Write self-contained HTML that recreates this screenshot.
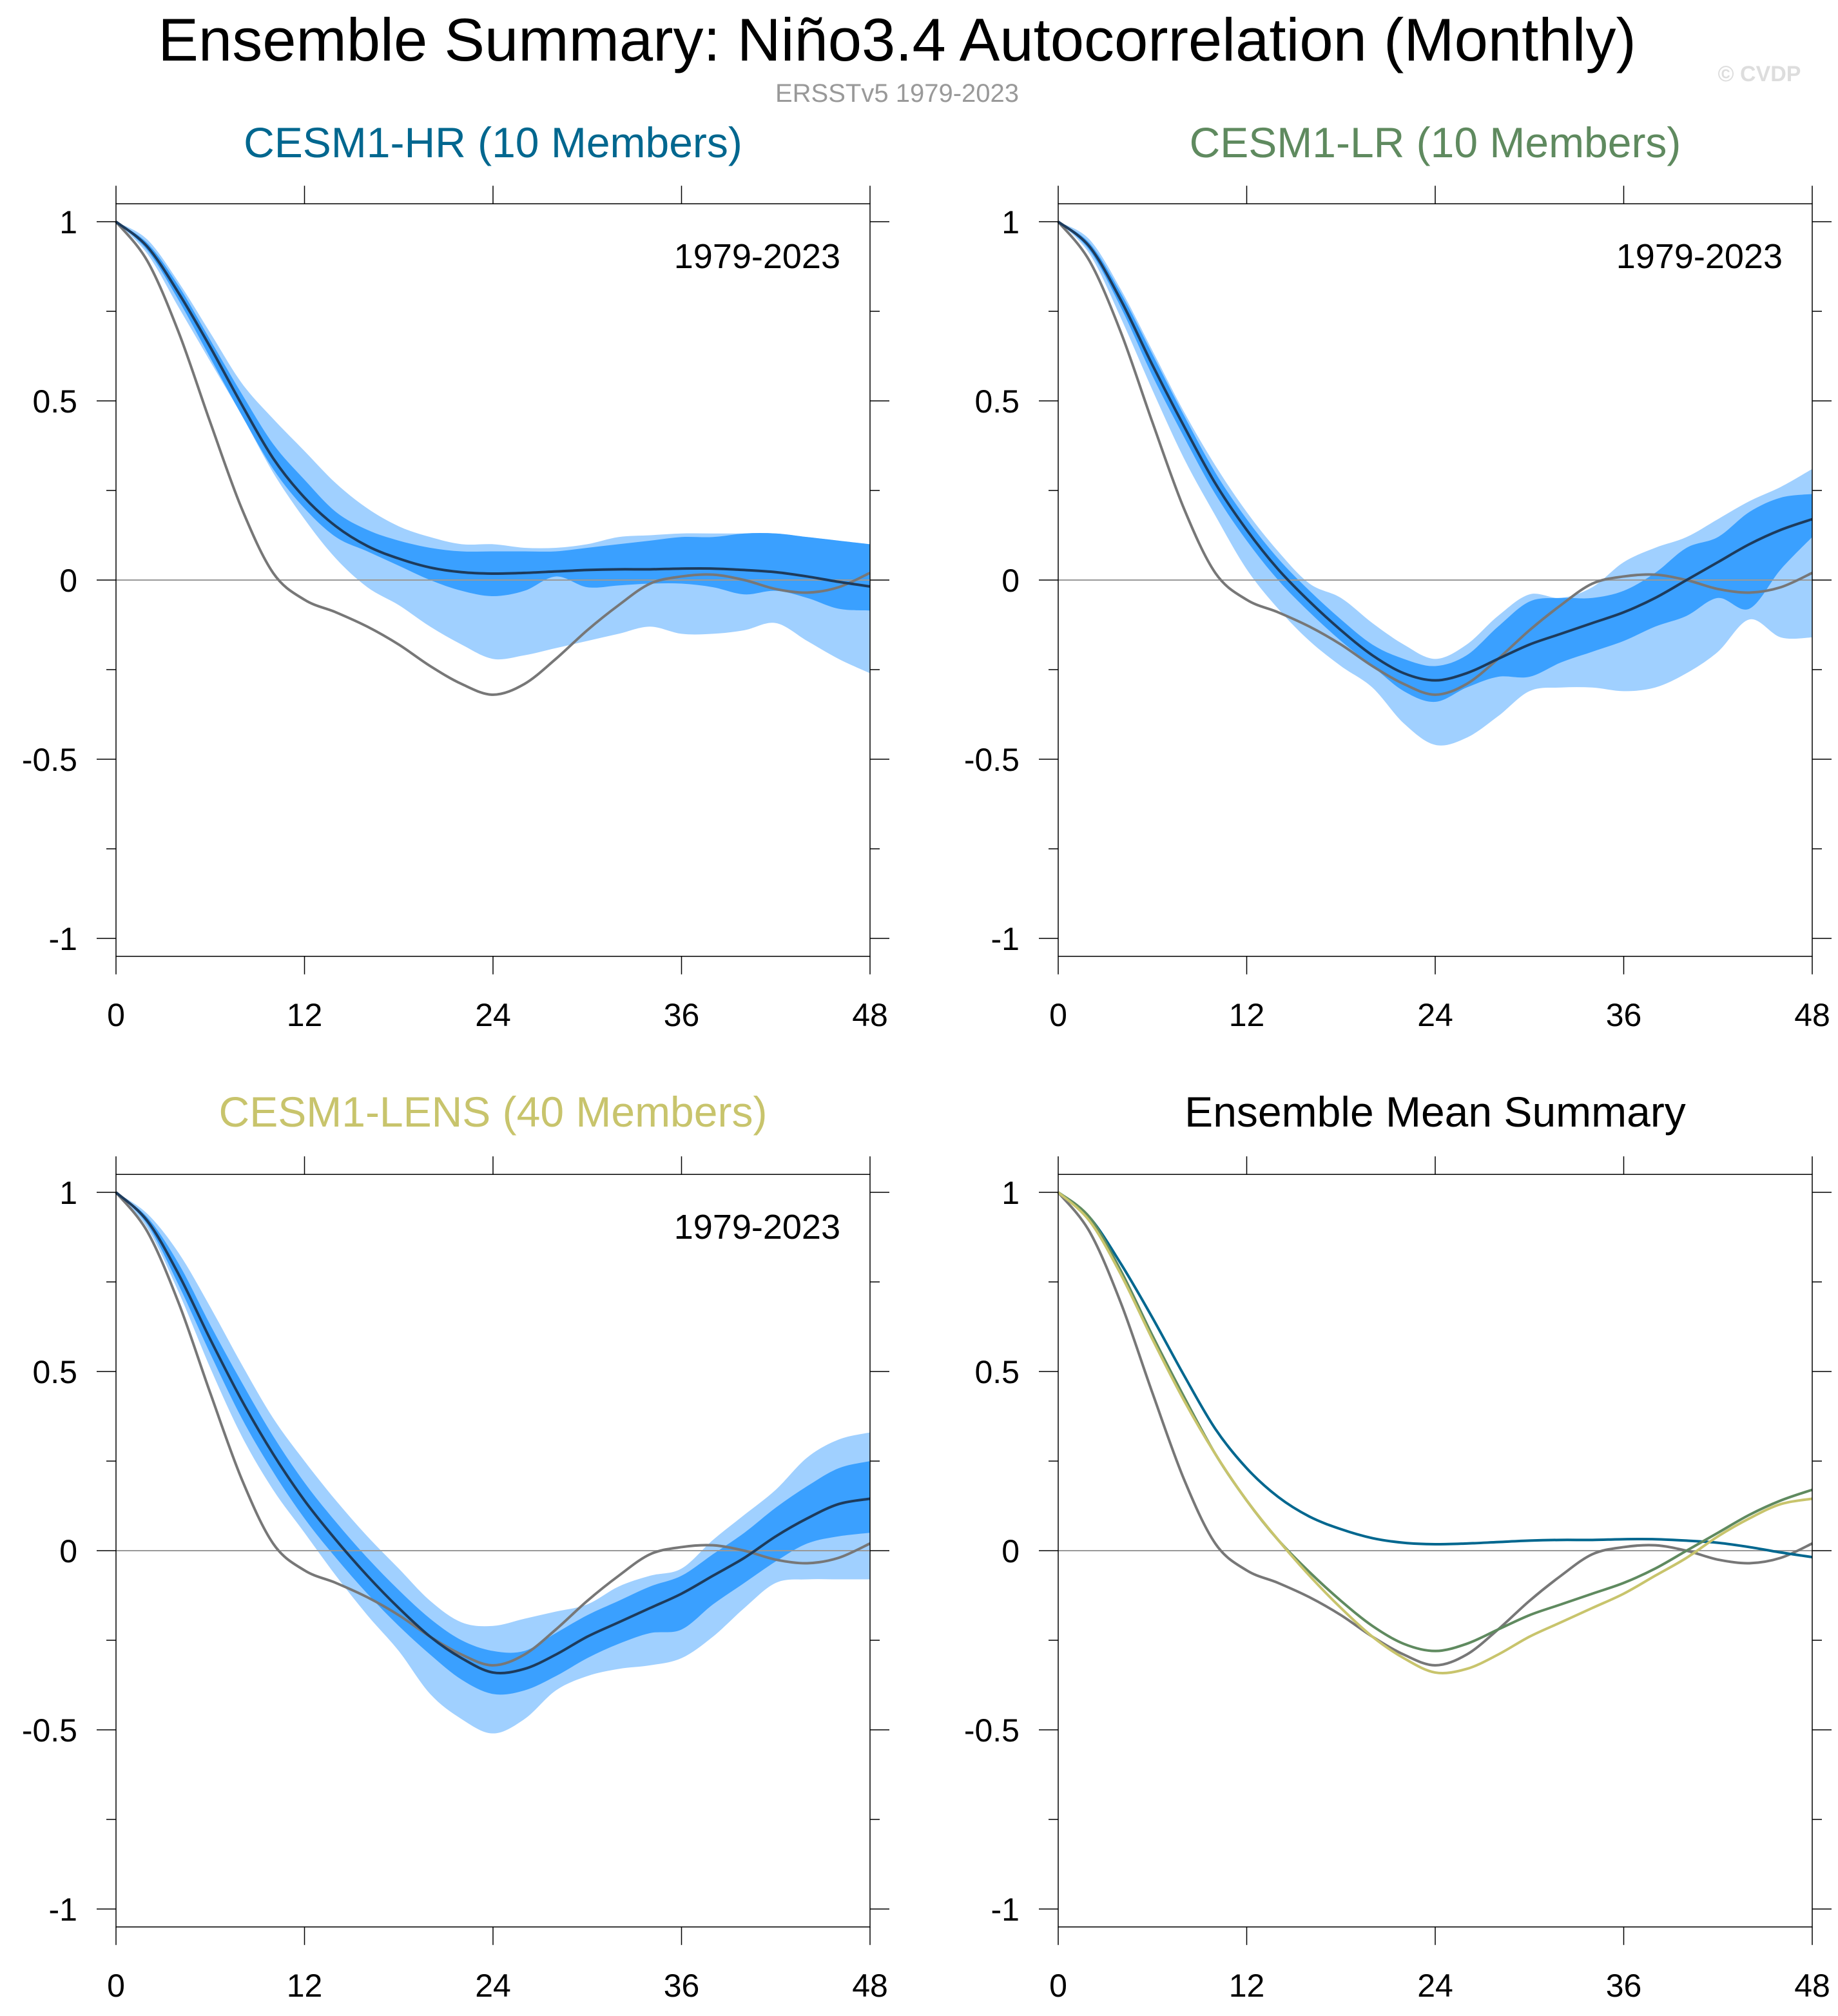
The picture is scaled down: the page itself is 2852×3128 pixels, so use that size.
<!DOCTYPE html>
<html><head><meta charset="utf-8"><style>
html,body{margin:0;padding:0;background:#fff;}
svg{display:block;font-family:"Liberation Sans",sans-serif;}
</style></head><body>
<svg id="c" width="2852" height="3128" viewBox="0 0 2852 3128" xmlns="http://www.w3.org/2000/svg">
<text x="1392" y="94" font-size="94" text-anchor="middle" fill="#000">Ensemble Summary: Niño3.4 Autocorrelation (Monthly)</text>
<text x="1392" y="158" font-size="40" text-anchor="middle" fill="#999">ERSSTv5 1979-2023</text>
<text x="2730" y="126" font-size="34" text-anchor="middle" fill="#ddd" font-weight="bold">© CVDP</text>
</svg>
<script>
const lags=[0,2,4,6,8,10,12,14,16,18,20,22,24,26,28,30,32,34,36,38,40,42,44,46,48];
const obs=[1,0.89,0.69,0.44,0.20,0.02,-0.055,-0.09,-0.13,-0.18,-0.24,-0.29,-0.32,-0.29,-0.22,-0.14,-0.07,-0.01,0.01,0.015,0.0,-0.025,-0.035,-0.02,0.02];
const hrMean=[1,0.93,0.80,0.65,0.49,0.34,0.23,0.15,0.095,0.06,0.035,0.022,0.018,0.02,0.024,0.028,0.03,0.03,0.032,0.032,0.028,0.022,0.01,-0.005,-0.018];
const hrDarkHi=[1,0.94,0.82,0.67,0.52,0.38,0.28,0.19,0.14,0.11,0.09,0.08,0.08,0.08,0.08,0.09,0.10,0.11,0.12,0.12,0.13,0.13,0.12,0.11,0.10];
const hrDarkLo=[1,0.92,0.78,0.62,0.46,0.31,0.20,0.12,0.08,0.04,0.0,-0.03,-0.045,-0.03,0.01,-0.02,-0.015,-0.01,-0.01,-0.02,-0.04,-0.03,-0.05,-0.08,-0.085];
const hrLightHi=[1,0.95,0.83,0.69,0.55,0.45,0.36,0.27,0.20,0.15,0.12,0.10,0.10,0.09,0.09,0.10,0.12,0.125,0.13,0.13,0.13,0.13,0.12,0.11,0.10];
const hrLightLo=[1,0.91,0.76,0.61,0.46,0.30,0.17,0.06,-0.02,-0.07,-0.13,-0.18,-0.22,-0.21,-0.19,-0.17,-0.15,-0.13,-0.15,-0.15,-0.14,-0.12,-0.17,-0.22,-0.26];
const lrMean=[1,0.93,0.78,0.60,0.43,0.27,0.14,0.03,-0.06,-0.14,-0.21,-0.26,-0.28,-0.26,-0.22,-0.18,-0.15,-0.12,-0.09,-0.05,0.0,0.05,0.10,0.14,0.17];
const lrDarkHi=[1,0.94,0.80,0.63,0.46,0.30,0.17,0.06,-0.03,-0.11,-0.18,-0.22,-0.24,-0.21,-0.13,-0.06,-0.05,-0.05,-0.03,0.02,0.09,0.12,0.19,0.23,0.24];
const lrDarkLo=[1,0.92,0.76,0.57,0.40,0.24,0.11,0.0,-0.09,-0.17,-0.24,-0.31,-0.34,-0.30,-0.27,-0.27,-0.23,-0.20,-0.17,-0.13,-0.10,-0.05,-0.08,0.03,0.12];
const lrLightHi=[1,0.95,0.81,0.64,0.47,0.32,0.19,0.08,-0.01,-0.05,-0.12,-0.18,-0.22,-0.18,-0.10,-0.04,-0.05,-0.02,0.05,0.09,0.12,0.17,0.22,0.26,0.31];
const lrLightLo=[1,0.91,0.73,0.53,0.34,0.18,0.03,-0.08,-0.17,-0.24,-0.30,-0.40,-0.46,-0.44,-0.38,-0.31,-0.30,-0.30,-0.31,-0.30,-0.26,-0.20,-0.11,-0.16,-0.16];
const lensMean=[1,0.92,0.77,0.59,0.42,0.27,0.14,0.03,-0.07,-0.16,-0.24,-0.30,-0.34,-0.33,-0.29,-0.24,-0.20,-0.16,-0.12,-0.07,-0.02,0.04,0.09,0.13,0.145];
const lensDarkHi=[1,0.93,0.80,0.63,0.47,0.32,0.19,0.08,-0.02,-0.11,-0.19,-0.25,-0.28,-0.28,-0.23,-0.18,-0.14,-0.10,-0.07,-0.01,0.05,0.12,0.18,0.23,0.25];
const lensDarkLo=[1,0.91,0.74,0.55,0.37,0.22,0.09,-0.02,-0.12,-0.21,-0.29,-0.36,-0.40,-0.39,-0.35,-0.30,-0.26,-0.23,-0.22,-0.15,-0.09,-0.03,0.02,0.04,0.05];
const lensLightHi=[1,0.94,0.83,0.68,0.52,0.37,0.25,0.14,0.04,-0.05,-0.14,-0.20,-0.21,-0.19,-0.17,-0.15,-0.10,-0.07,-0.05,0.03,0.10,0.17,0.26,0.31,0.33];
const lensLightLo=[1,0.90,0.72,0.51,0.32,0.17,0.05,-0.07,-0.18,-0.28,-0.40,-0.47,-0.51,-0.47,-0.39,-0.35,-0.33,-0.32,-0.30,-0.24,-0.16,-0.09,-0.08,-0.08,-0.08];
const yTicks=[-1,-0.5,0,0.5,1];
const yTickLabels=["-1","-0.5","0","0.5","1"];
const yMinor=[-0.75,-0.25,0.25,0.75];
const xTicks=[0,12,24,36,48];

const svg=document.getElementById('c');
const NS='http://www.w3.org/2000/svg';
function mk(tag,attrs,parent){const e=document.createElementNS(NS,tag);for(const k in attrs)e.setAttribute(k,attrs[k]);(parent||svg).appendChild(e);return e;}
// Catmull-Rom smoothing through points; returns path segment string (without initial M)
function smooth(pts){
  let d='';
  for(let i=0;i<pts.length-1;i++){
    const p0=pts[Math.max(i-1,0)],p1=pts[i],p2=pts[i+1],p3=pts[Math.min(i+2,pts.length-1)];
    const c1=[p1[0]+(p2[0]-p0[0])/6,p1[1]+(p2[1]-p0[1])/6];
    const c2=[p2[0]-(p3[0]-p1[0])/6,p2[1]-(p3[1]-p1[1])/6];
    d+='C'+c1[0]+','+c1[1]+' '+c2[0]+','+c2[1]+' '+p2[0]+','+p2[1];
  }
  return d;
}

function panel(cfg){
  const g=mk('g',{});
  
  
  const X=v=>cfg.x0+(v/48)*(cfg.x1-cfg.x0);
  const Y=v=>cfg.yc-v*556;
  const top=Y(1.05),bot=Y(-1.05);
  const band=(hi,lo,fill,name)=>{
    const up=lags.map((l,i)=>[X(l),Y(hi[i])]);
    const dn=lags.map((l,i)=>[X(l),Y(lo[i])]).reverse();
    let d='M'+up[0][0]+','+up[0][1]+smooth(up)+'L'+dn[0][0]+','+dn[0][1]+smooth(dn)+'Z';
    const p=mk('path',{d:d,fill:fill,stroke:'none'},g);
    
    
  };
  const line=(vals,color,w,name)=>{
    const pts=lags.map((l,i)=>[X(l),Y(vals[i])]);
    const p=mk('path',{d:'M'+pts[0][0]+','+pts[0][1]+smooth(pts),fill:'none',stroke:color,'stroke-width':w,'stroke-linejoin':'round'},g);
    
    
  };
  if(cfg.bands){
    band(cfg.bands[2],cfg.bands[3],'#a0d0ff','spread-band-light');
    band(cfg.bands[0],cfg.bands[1],'#3aa0ff','spread-band-dark');
  }
  const zl=mk('line',{x1:X(0),x2:X(48),y1:Y(0),y2:Y(0),stroke:'#999','stroke-width':2},g);
  
  
  cfg.lines.forEach(l=>line(l[0],l[1],l[2],l[3]));
  const fr=mk('rect',{x:X(0),y:top,width:X(48)-X(0),height:bot-top,fill:'none',stroke:'#000','stroke-width':1.5},g);
  
  
  yTicks.forEach((v,i)=>{
    mk('line',{x1:X(0)-30,x2:X(0),y1:Y(v),y2:Y(v),stroke:'#000','stroke-width':1.5},g);
    mk('line',{x1:X(48),x2:X(48)+30,y1:Y(v),y2:Y(v),stroke:'#000','stroke-width':1.5},g);
    const t=mk('text',{x:X(0)-60,y:Y(v)+18,'font-size':50,'text-anchor':'end'},g);
    t.textContent=yTickLabels[i];
    
    
  });
  yMinor.forEach(v=>{
    mk('line',{x1:X(0)-15,x2:X(0),y1:Y(v),y2:Y(v),stroke:'#000','stroke-width':1.5},g);
    mk('line',{x1:X(48),x2:X(48)+15,y1:Y(v),y2:Y(v),stroke:'#000','stroke-width':1.5},g);
  });
  xTicks.forEach(v=>{
    mk('line',{x1:X(v),x2:X(v),y1:top-28,y2:top,stroke:'#000','stroke-width':1.5},g);
    mk('line',{x1:X(v),x2:X(v),y1:bot,y2:bot+28,stroke:'#000','stroke-width':1.5},g);
    const t=mk('text',{x:X(v),y:bot+108,'font-size':50,'text-anchor':'middle'},g);
    t.textContent=String(v);
    
    
  });
  const tt=mk('text',{x:(X(0)+X(48))/2,y:cfg.titleY,'font-size':66,'text-anchor':'middle',fill:cfg.titleColor},g);
  tt.textContent=cfg.title;
  
  
  if(cfg.period){
    const p=mk('text',{x:X(48)-46,y:Y(1)+72,'font-size':54,'text-anchor':'end'},g);
    p.textContent='1979-2023';
    
    
  }
}
const NAVY='#1d3b5c',GRAY='#777';
panel({name:'panel-cesm1-hr',x0:180,x1:1350,yc:900,titleY:244,title:'CESM1-HR (10 Members)',titleColor:'#00678f',period:true,
  bands:[hrDarkHi,hrDarkLo,hrLightHi,hrLightLo],lines:[[obs,GRAY,4,'observed-line'],[hrMean,NAVY,4,'ensemble-mean-line']]});
panel({name:'panel-cesm1-lr',x0:1642,x1:2812,yc:900,titleY:244,title:'CESM1-LR (10 Members)',titleColor:'#5f8a5f',period:true,
  bands:[lrDarkHi,lrDarkLo,lrLightHi,lrLightLo],lines:[[obs,GRAY,4,'observed-line'],[lrMean,NAVY,4,'ensemble-mean-line']]});
panel({name:'panel-cesm1-lens',x0:180,x1:1350,yc:2406,titleY:1748,title:'CESM1-LENS (40 Members)',titleColor:'#c8c46c',period:true,
  bands:[lensDarkHi,lensDarkLo,lensLightHi,lensLightLo],lines:[[obs,GRAY,4,'observed-line'],[lensMean,NAVY,4,'ensemble-mean-line']]});
panel({name:'panel-ensemble-mean-summary',x0:1642,x1:2812,yc:2406,titleY:1748,title:'Ensemble Mean Summary',titleColor:'#000',period:false,
  lines:[[obs,GRAY,4,'observed-line'],[hrMean,'#00678f',4,'hr-mean-line'],[lrMean,'#5f8a5f',4,'lr-mean-line'],[lensMean,'#c8c46c',4,'lens-mean-line']]});
</script>
</body></html>
